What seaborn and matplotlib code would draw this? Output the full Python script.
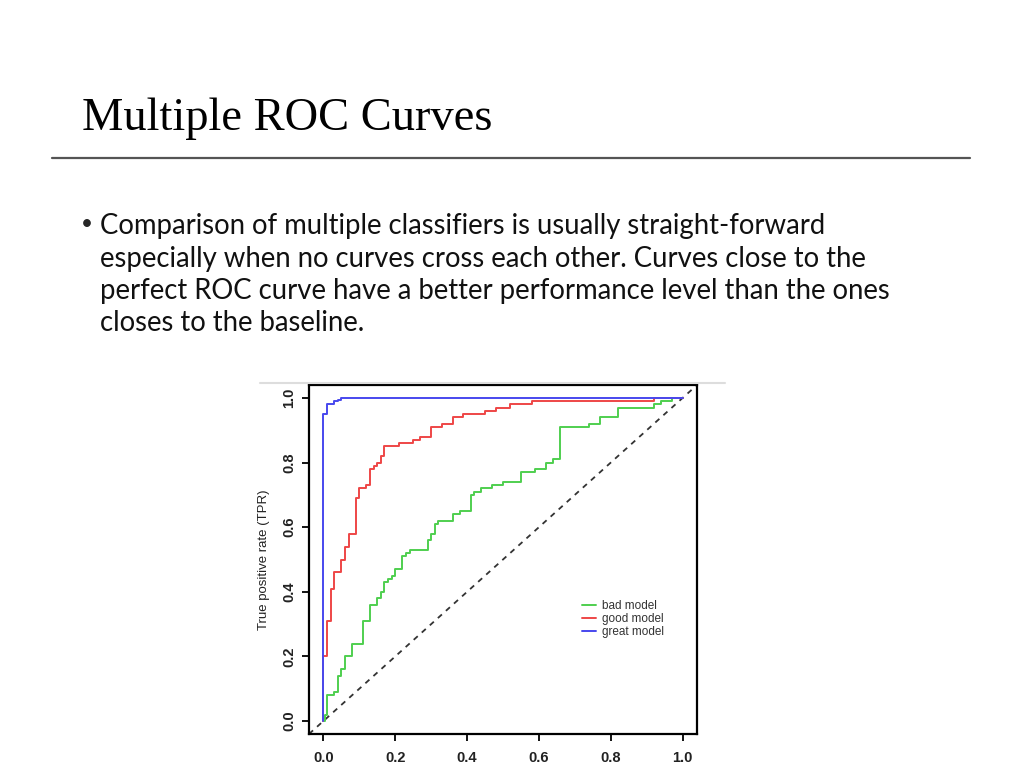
import numpy as np
import pandas as pd
import matplotlib
matplotlib.use("Agg")
import matplotlib.pyplot as plt
import seaborn as sns

# ROC corner points (fpr, tpr), step-post style
bad_fpr = [0.0, 0.005, 0.01, 0.03, 0.04, 0.05, 0.06, 0.08, 0.11, 0.13, 0.15, 0.16, 0.17, 0.18, 0.19, 0.20,
           0.22, 0.23, 0.24, 0.29, 0.30, 0.31, 0.32, 0.36, 0.38, 0.41, 0.42, 0.44, 0.47, 0.50, 0.55, 0.59,
           0.62, 0.64, 0.66, 0.74, 0.77, 0.82, 0.92, 0.94, 0.97, 1.0]
bad_tpr = [0.0, 0.02, 0.08, 0.09, 0.14, 0.16, 0.20, 0.24, 0.31, 0.36, 0.38, 0.40, 0.43, 0.44, 0.45, 0.47,
           0.51, 0.52, 0.53, 0.56, 0.58, 0.61, 0.62, 0.64, 0.65, 0.70, 0.71, 0.72, 0.73, 0.74, 0.77, 0.78,
           0.80, 0.81, 0.91, 0.92, 0.94, 0.97, 0.98, 0.99, 1.0, 1.0]

good_fpr = [0.0, 0.01, 0.02, 0.03, 0.05, 0.06, 0.07, 0.09, 0.10, 0.12, 0.13, 0.14, 0.15, 0.16, 0.17,
            0.21, 0.25, 0.27, 0.30, 0.33, 0.36, 0.39, 0.45, 0.48, 0.52, 0.58, 0.92, 1.0]
good_tpr = [0.20, 0.31, 0.41, 0.46, 0.50, 0.54, 0.58, 0.69, 0.72, 0.73, 0.78, 0.79, 0.80, 0.82, 0.85,
            0.86, 0.87, 0.88, 0.91, 0.92, 0.94, 0.95, 0.96, 0.97, 0.98, 0.99, 1.0, 1.0]

great_fpr = [0.0, 0.01, 0.03, 0.04, 0.05, 1.0]
great_tpr = [0.95, 0.98, 0.99, 0.995, 1.0, 1.0]

models = ["bad model", "good model", "great model"]
colors = ["#4fcf4f", "#ee4646", "#4848ee"]

x_ticks = [0.0, 0.2, 0.4, 0.6, 0.8, 1.0]
tick_labels = ["0.0", "0.2", "0.4", "0.6", "0.8", "1.0"]

title = "Multiple ROC Curves"
bullet_lines = [
    "Comparison of multiple classifiers is usually straight-forward",
    "especially when no curves cross each other. Curves close to the",
    "perfect ROC curve have a better performance level than the ones",
    "closes to the baseline.",
]

# prepend the origin for the curves that start at x = 0 from below
rows = []
for name, fx, ty in [(models[0], bad_fpr, bad_tpr), (models[1], [0.0] + good_fpr, [0.0] + good_tpr),
                     (models[2], [0.0] + great_fpr, [0.0] + great_tpr)]:
    for i, (a, b) in enumerate(zip(fx, ty)):
        rows.append({"model": name, "fpr": a, "tpr": b, "order": i})
df = pd.DataFrame(rows)

sns.set_style("white")
plt.rcParams["font.family"] = ["Liberation Sans", "DejaVu Sans"]

fig = plt.figure(figsize=(10.24, 7.68), dpi=100)
fig.patch.set_facecolor("white")

# slide title and rule
fig.text(82 / 1024, 1 - 130 / 768, title, fontsize=33.5, family="Liberation Serif", color="black",
         ha="left", va="baseline")
fig.add_artist(plt.Line2D([52 / 1024, 970 / 1024], [1 - 158 / 768, 1 - 158 / 768],
                          transform=fig.transFigure, color="#555555", lw=1.6))

# bullet text
line_y = [226, 258.5, 291, 323.5]
fig.text(81 / 1024, 1 - (line_y[0] - 2) / 768, "\u2022", fontsize=15, family="Lato", ha="left", va="center")
for txt, yy in zip(bullet_lines, line_y):
    fig.text(100 / 1024, 1 - yy / 768, txt, fontsize=19.8, family="Lato", color="#111111",
             ha="left", va="center")

# faint top edge of the embedded picture
fig.add_artist(plt.Line2D([260 / 1024, 725 / 1024], [1 - 383 / 768, 1 - 383 / 768],
                          transform=fig.transFigure, color="#dddddd", lw=1.5))

ax = fig.add_axes([309 / 1024, 1 - 734 / 768, 388 / 1024, 349 / 768])
ax.set_facecolor("white")

sns.lineplot(data=df, x="fpr", y="tpr", hue="model", hue_order=models, palette=colors,
             sort=False, estimator=None, units="model", drawstyle="steps-post", lw=1.4, ax=ax)
ax.axline((0, 0), (1, 1), color="#333333", lw=1.3, ls=(0, (3, 3)), zorder=1)

ax.set_xlim(-0.04, 1.04)
ax.set_ylim(-0.04, 1.04)
ax.set_xticks(x_ticks)
ax.set_xticklabels(tick_labels, fontsize=10.5, fontweight="bold", color="#222222")
ax.set_yticks(x_ticks)
ax.set_yticklabels(tick_labels, fontsize=10.5, fontweight="bold", color="#222222",
                   rotation=90, va="center")
ax.tick_params(axis="both", direction="out", length=5, width=1.3, color="black",
               bottom=True, left=True, pad=4)
ax.tick_params(axis="x", pad=7)
ax.set_xlabel("")
ax.set_ylabel("True positive rate (TPR)", fontsize=9.5, color="#222222", labelpad=9)
for sp in ax.spines.values():
    sp.set_visible(True)
    sp.set_color("black")
    sp.set_linewidth(1.6)

handles, labels = ax.get_legend_handles_labels()
ax.legend(handles, labels, loc="upper left", bbox_to_anchor=(0.675, 0.413), frameon=False,
          fontsize=8.5, handlelength=1.2, handletextpad=0.5, labelspacing=0.05,
          labelcolor="#333333")

fig.savefig("out.png", dpi=100, facecolor="white")
